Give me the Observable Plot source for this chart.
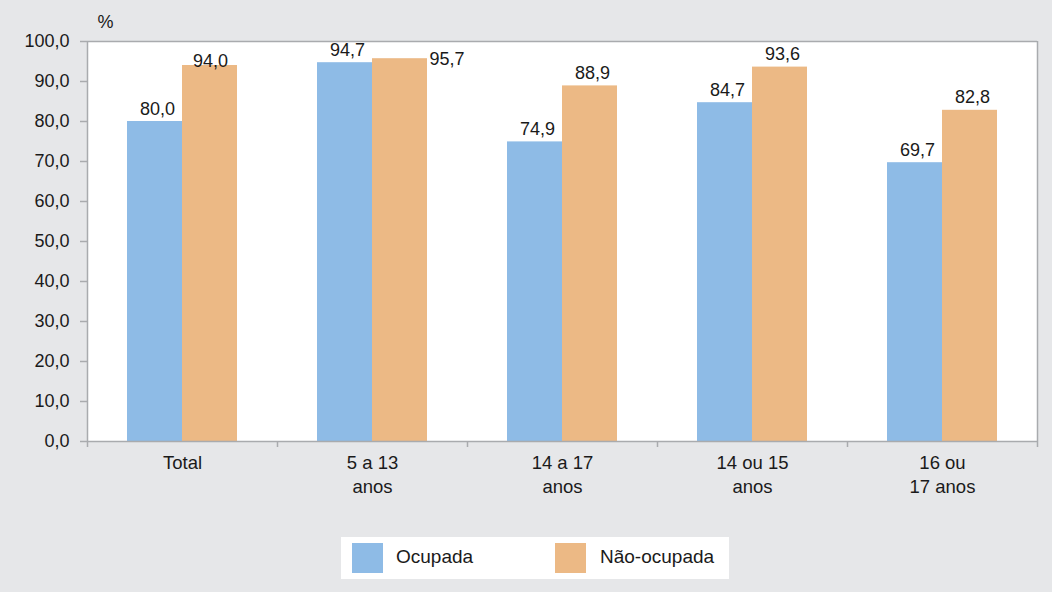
<!DOCTYPE html>
<html>
<head>
<meta charset="utf-8">
<script src="https://cdn.jsdelivr.net/npm/d3@7"></script>
<script src="https://cdn.jsdelivr.net/npm/@observablehq/plot@0.6"></script>
<style>
  html, body { margin: 0; padding: 0; background: #e6e7e9; }
  #wrap { position: relative; width: 1052px; height: 592px; overflow: hidden; background: #e6e7e9; font-family: "Liberation Sans", Arial, sans-serif; }
  #chart { position: absolute; left: 0; top: 0; }
  #legend { position: absolute; left: 341px; top: 537px; width: 388px; height: 42px; background: #fff; }
  .sw { position: absolute; top: 6px; width: 31px; height: 30px; }
  .lb { position: absolute; top: 9px; font-size: 19px; color: #1a1a1a; line-height: 22px; white-space: nowrap; }
</style>
</head>
<body>
<div id="wrap">
  <div id="chart"></div>
  <div id="legend">
    <div class="sw" style="left:11px;background:#8ebbe6"></div>
    <div class="lb" style="left:55px">Ocupada</div>
    <div class="sw" style="left:214px;background:#ecb985"></div>
    <div class="lb" style="left:259px">Não-ocupada</div>
  </div>
</div>
<script>
const categories = ["Total", "5 a 13\nanos", "14 a 17\nanos", "14 ou 15\nanos", "16 ou\n17 anos"];
const series = ["Ocupada", "Não-ocupada"];
const ocupada = [80.0, 94.7, 74.9, 84.7, 69.7];
const naoOcupada = [94.0, 95.7, 88.9, 93.6, 82.8];
const yTicks = [0, 10, 20, 30, 40, 50, 60, 70, 80, 90, 100];
const colors = ["#8ebbe6", "#ecb985"];

const data = [];
categories.forEach((c, i) => {
  data.push({cat: c, series: series[0], value: ocupada[i]});
  data.push({cat: c, series: series[1], value: naoOcupada[i]});
});
const fmt = v => v.toFixed(1).replace(".", ",");
const axisGray = "#a9abae";
const ink = "#1a1a1a";
const lastCat = [categories[categories.length - 1]];

const occ = data.filter(d => d.series === series[0]);
const nao = data.filter(d => d.series === series[1]);
// label placement groups (as in the original layout)
const naoSide = nao.filter(d => d.value >= 95);             // placed beside the bar
const naoLow = nao.filter(d => d.cat === "Total");           // pushed down onto the bar top
const naoNormal = nao.filter(d => d.value < 95 && d.cat !== "Total");

const txt = {fontSize: 18, fill: ink};

const chart = Plot.plot({
  width: 1052,
  height: 520,
  marginLeft: 87,
  marginRight: 15,
  marginTop: 41,
  marginBottom: 79,
  style: {background: "transparent", fontFamily: "'Liberation Sans', Arial, sans-serif", fontSize: "18px", color: ink},
  x: {domain: categories, padding: 0, round: false, axis: null},
  y: {domain: [0, 100], axis: null},
  color: {domain: series, range: colors},
  marks: [
    Plot.frame({fill: "white", stroke: "none"}),
    // bars
    Plot.barY(occ, {x: "cat", y: "value", fill: "series", insetLeft: 40, insetRight: 95}),
    Plot.barY(nao, {x: "cat", y: "value", fill: "series", insetLeft: 95, insetRight: 40}),
    // frame lines
    Plot.ruleY([100], {stroke: axisGray, strokeWidth: 1.5}),
    Plot.ruleY([0], {stroke: axisGray, strokeWidth: 1.5}),
    Plot.ruleX([categories[0]], {dx: -95, y1: 0, y2: 100, stroke: axisGray, strokeWidth: 1.5}),
    Plot.ruleX(lastCat, {dx: 95, y1: -1.5, y2: 100, stroke: axisGray, strokeWidth: 1.5}),
    Plot.ruleX(categories, {dx: -95, y1: -1.5, y2: 0, stroke: axisGray, strokeWidth: 1.5}),
    // y axis
    Plot.axisY({ticks: yTicks, tickSize: 7, tickPadding: 11, tickFormat: fmt, stroke: axisGray, strokeWidth: 1.5, fill: ink, fontSize: 18, label: null}),
    Plot.text(["%"], {frameAnchor: "top-left", dx: 10, dy: -19, lineAnchor: "middle", ...txt}),
    // category labels
    Plot.text(categories, {x: d => d, y: 0, dy: 11, lineAnchor: "top", lineHeight: 1.28, fontSize: 18.5, fill: ink}),
    // value labels
    Plot.text(occ, {x: "cat", y: "value", text: d => fmt(d.value), dx: -25, dy: -7, lineAnchor: "bottom", ...txt}),
    Plot.text(naoNormal, {x: "cat", y: "value", text: d => fmt(d.value), dx: 30, dy: -7, lineAnchor: "bottom", ...txt}),
    Plot.text(naoLow, {x: "cat", y: "value", text: d => fmt(d.value), dx: 28, dy: 1, lineAnchor: "bottom", ...txt}),
    Plot.text(naoSide, {x: "cat", y: "value", text: d => fmt(d.value), dx: 57, dy: 6, lineAnchor: "bottom", textAnchor: "start", ...txt})
  ]
});
document.getElementById("chart").appendChild(chart);
</script>
</body>
</html>
